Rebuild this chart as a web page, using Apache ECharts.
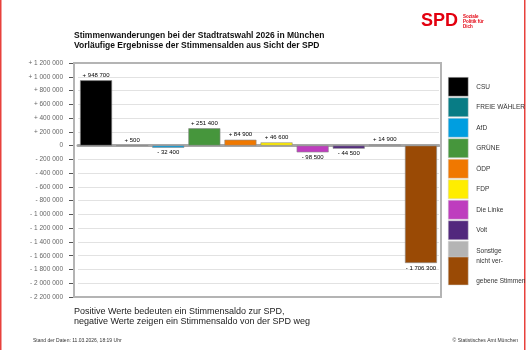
<!DOCTYPE html>
<html>
<head>
  <meta charset="UTF-8">
  <title>Stimmenwanderungen SPD München</title>
  <script src="https://cdn.jsdelivr.net/npm/echarts@6/dist/echarts.min.js"></script>
  <style>
    html, body { margin: 0; padding: 0; background: #fff; }
    #chart { width: 530px; height: 350px; }
  </style>
</head>
<body>
<div id="chart"></div>
<script>
  // Daten
  var categories = ['CSU', 'FREIE WÄHLER', 'AfD', 'GRÜNE', 'ÖDP', 'FDP', 'Die Linke', 'Volt', 'Sonstige', 'nicht vergebene Stimmen'];
  var saldo = [948700, 500, -32400, 251400, 84900, 46600, -98500, -44500, 14900, -1706300];
  var partyColors = ['#000000', '#087c85', '#009ee0', '#46963c', '#f07800', '#ffed00', '#be3dbe', '#52287d', '#b4b4b4', '#9a4a05'];
  var yMin = -2200000, yMax = 1200000, yStep = 200000;

  function fmt(v) {
    if (v === 0) return '0';
    var s = String(Math.abs(v)).replace(/\B(?=(\d{3})+(?!\d))/g, ' ');
    return (v > 0 ? '+ ' : '- ') + s;
  }

  var series = categories.map(function (name, i) {
    return {
      type: 'bar',
      name: name,
      barGap: '-100%',
      barWidth: 32,
      itemStyle: { color: partyColors[i], borderColor: '#8c8c8c', borderWidth: 0.6 },
      label: {
        show: true,
        fontSize: 6,
        color: '#000',
        distance: 2,
        formatter: function (p) { return fmt(p.value); }
      },
      data: categories.map(function (c, j) {
        if (j !== i) return '-';
        return { value: saldo[i], label: { position: saldo[i] < 0 ? 'bottom' : 'top' } };
      })
    };
  });

  var legendItemStyle = { borderColor: '#d0d0d0', borderWidth: 0.5 };

  var chart = echarts.init(document.getElementById('chart'));
  chart.setOption({
    animation: false,
    textStyle: { fontFamily: 'Liberation Sans, Arial, sans-serif' },
    grid: { left: 78, right: 91, top: 63, bottom: 53 },
    xAxis: {
      type: 'category',
      data: categories,
      axisLabel: { show: false },
      axisTick: { show: false },
      axisLine: { show: true, onZero: true, lineStyle: { color: '#a6a6a6', width: 3 } }
    },
    yAxis: {
      type: 'value',
      min: yMin, max: yMax, interval: yStep,
      offset: 4,
      axisLine: { show: false },
      axisTick: { show: true, length: 5, lineStyle: { color: '#555' } },
      axisLabel: { fontSize: 6.5, color: '#666', margin: 11, formatter: fmt },
      splitLine: { lineStyle: { color: '#e2e2e2', width: 1 } }
    },
    legend: [
      {
        data: categories.slice(0, 9),
        orient: 'vertical',
        left: 448, top: 77,
        padding: 0,
        itemWidth: 20, itemHeight: 19, itemGap: 1,
        icon: 'rect',
        selectedMode: false,
        itemStyle: legendItemStyle,
        textStyle: { fontSize: 6.5, color: '#333', padding: [0, 0, 0, 3] }
      },
      {
        data: categories.slice(9),
        orient: 'vertical',
        left: 448, top: 251,
        padding: 0,
        itemWidth: 20, itemHeight: 28,
        icon: 'rect',
        selectedMode: false,
        itemStyle: legendItemStyle,
        formatter: function () { return 'nicht ver-\ngebene Stimmen'; },
        textStyle: { fontSize: 6.5, color: '#333', lineHeight: 20, padding: [0, 0, 0, 3] }
      }
    ],
    graphic: [
      { type: 'rect', shape: { x: 74, y: 63, width: 367, height: 234 }, style: { fill: null, stroke: '#b4b4b4', lineWidth: 2 }, z: 10 },
      { type: 'rect', shape: { x: 0, y: 0, width: 1.5, height: 350 }, style: { fill: '#e8413c' } },
      { type: 'rect', shape: { x: 524, y: 0, width: 1.5, height: 350 }, style: { fill: '#e8413c' } },
      { type: 'text', x: 74, y: 31, style: { text: 'Stimmenwanderungen bei der Stadtratswahl 2026 in München', font: 'bold 8.5px Liberation Sans', fill: '#111' } },
      { type: 'text', x: 74, y: 41, style: { text: 'Vorläufige Ergebnisse der Stimmensalden aus Sicht der SPD', font: 'bold 8.5px Liberation Sans', fill: '#111' } },
      { type: 'text', x: 421, y: 12, style: { text: 'SPD', font: 'bold 18px Liberation Sans', fill: '#e3000f' } },
      { type: 'text', x: 463, y: 14, style: { text: 'Soziale\nPolitik für\nDich', font: 'bold 4.5px Liberation Sans', lineHeight: 5, fill: '#e3000f' } },
      { type: 'text', x: 74, y: 307, style: { text: 'Positive Werte bedeuten ein Stimmensaldo zur SPD,\nnegative Werte zeigen ein Stimmensaldo von der SPD weg', font: '9px Liberation Sans', lineHeight: 10, fill: '#222' } },
      { type: 'text', x: 33, y: 338, style: { text: 'Stand der Daten: 11.03.2026, 18:19 Uhr', font: '5px Liberation Sans', fill: '#333' } },
      { type: 'text', x: 518, y: 338, style: { text: '© Statistisches Amt München', font: '5px Liberation Sans', fill: '#333', align: 'right' } }
    ],
    series: series
  });
</script>
</body>
</html>
